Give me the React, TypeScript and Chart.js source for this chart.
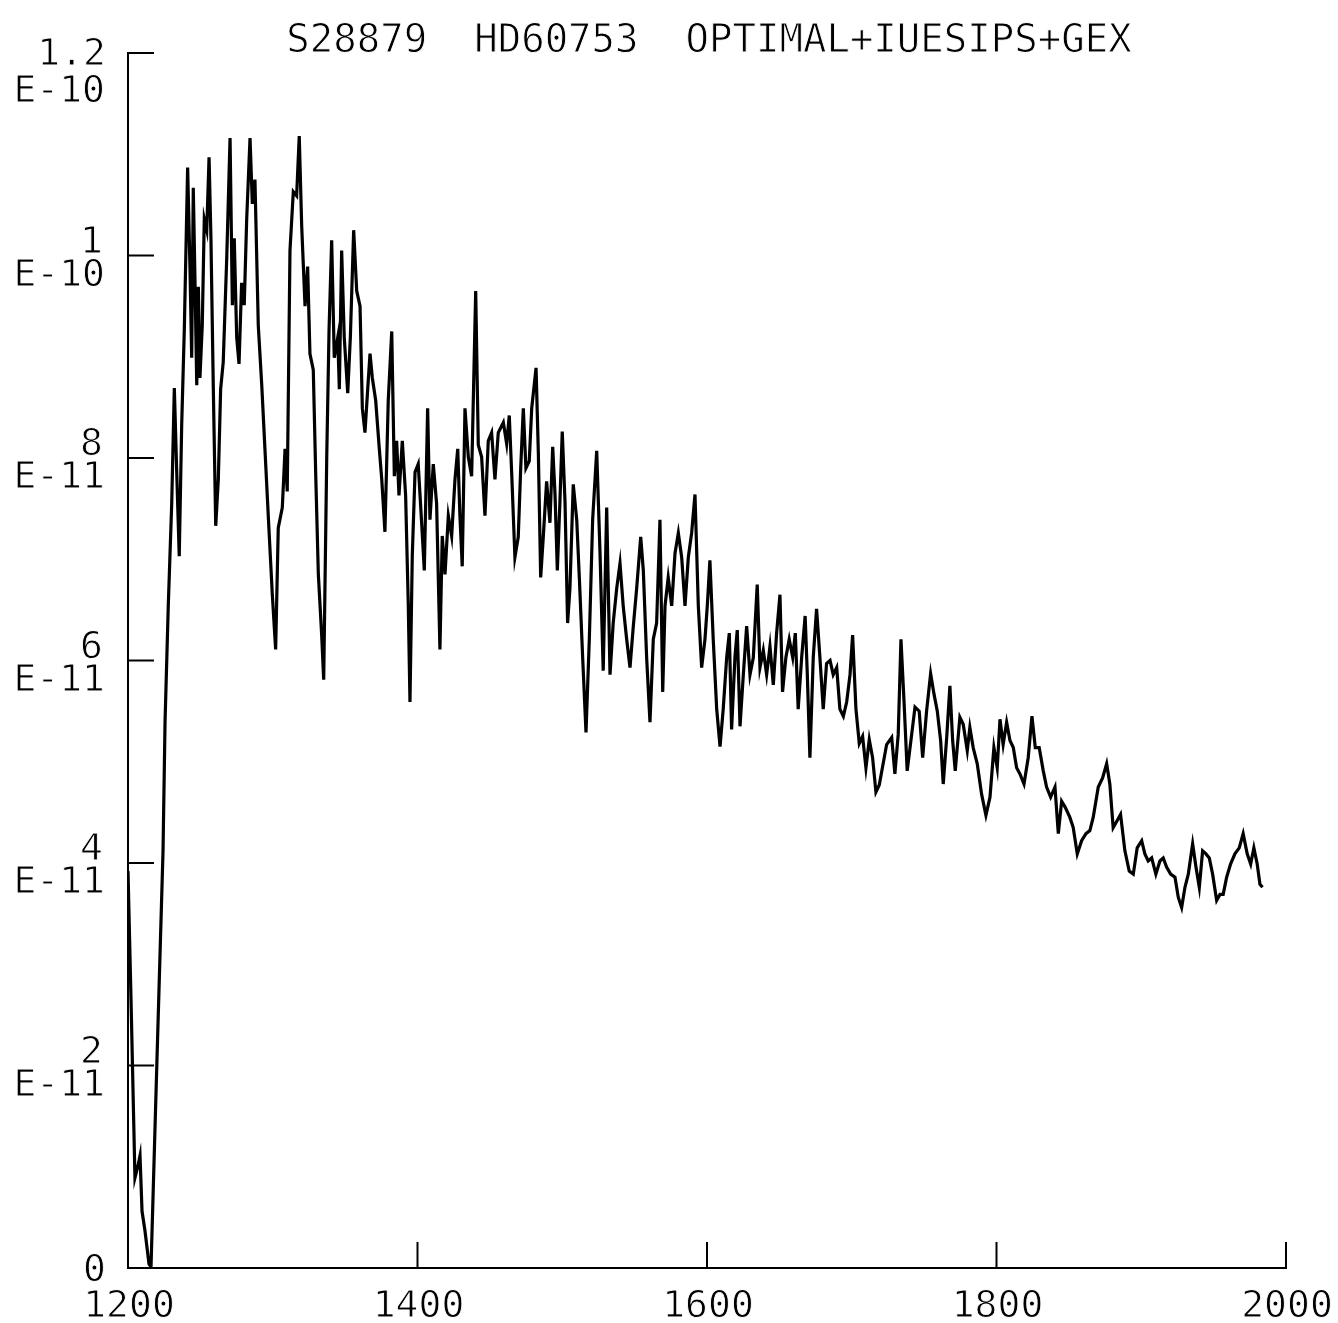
import React, { useEffect, useRef } from "react";
import { Chart, registerables } from "chart.js";

Chart.register(...registerables);

const TITLE = "S28879  HD60753  OPTIMAL+IUESIPS+GEX";

// wavelength (Angstrom)
const wavelengths: number[] = [
  1200.0, 1202.1, 1204.8, 1206.9, 1208.3, 1209.7, 1211.7, 1214.5, 1215.9, 1220.0,
  1224.2, 1225.6, 1227.8, 1230.2, 1232.0, 1233.6, 1235.4, 1237.1, 1238.9, 1241.2,
  1242.8, 1244.0, 1245.1, 1246.3, 1247.5, 1248.6, 1249.7, 1251.3, 1252.7, 1254.4,
  1256.0, 1257.3, 1258.9, 1260.6, 1262.4, 1264.0, 1265.8, 1268.2, 1270.5, 1272.1,
  1273.4, 1275.1, 1276.7, 1278.5, 1280.3, 1282.0, 1284.3, 1285.9, 1287.7, 1290.0,
  1292.4, 1294.6, 1296.9, 1299.7, 1302.0, 1303.8, 1306.6, 1308.5, 1310.0, 1311.9,
  1314.2, 1316.5, 1318.3, 1320.0, 1322.3, 1324.1, 1325.7, 1328.0, 1329.7, 1331.5,
  1333.8, 1335.2, 1337.3, 1338.9, 1340.7, 1342.5, 1344.9, 1346.0, 1347.6, 1349.4,
  1351.8, 1353.6, 1355.9, 1358.0, 1360.3, 1361.9, 1363.7, 1365.6, 1367.2, 1368.8,
  1371.1, 1373.4, 1375.3, 1377.5, 1379.8, 1382.2, 1384.0, 1385.6, 1387.2, 1389.5,
  1391.8, 1393.6, 1394.8, 1396.4, 1398.3, 1400.5, 1402.9, 1404.7, 1407.0, 1408.6,
  1410.9, 1413.2, 1415.5, 1417.1, 1419.0, 1421.3, 1423.6, 1425.9, 1427.8, 1429.3,
  1430.9, 1432.8, 1435.1, 1437.4, 1440.2, 1442.0, 1444.3, 1446.6, 1448.9, 1451.2,
  1453.5, 1455.8, 1459.3, 1461.6, 1463.4, 1465.1, 1467.3, 1469.6, 1471.3, 1473.1,
  1474.9, 1477.2, 1478.9, 1481.9, 1483.5, 1485.1, 1486.9, 1489.2, 1491.5, 1493.4,
  1495.0, 1496.6, 1498.4, 1500.0, 1501.9, 1503.7, 1505.3, 1507.6, 1510.0, 1511.8,
  1514.1, 1516.4, 1518.7, 1521.0, 1523.8, 1526.1, 1528.3, 1530.7, 1533.0, 1535.2,
  1537.6, 1539.9, 1542.1, 1544.5, 1546.8, 1549.1, 1551.4, 1554.2, 1556.0, 1558.3,
  1560.6, 1562.9, 1565.2, 1567.5, 1569.4, 1571.0, 1573.2, 1575.6, 1577.9, 1580.2,
  1582.5, 1584.8, 1587.1, 1589.4, 1591.7, 1594.0, 1596.3, 1598.6, 1600.2, 1602.0,
  1604.3, 1606.7, 1609.0, 1611.2, 1613.6, 1615.4, 1617.0, 1619.3, 1620.9, 1622.8,
  1625.1, 1627.4, 1629.7, 1632.0, 1634.7, 1636.6, 1638.9, 1641.2, 1643.5, 1645.8,
  1648.1, 1650.4, 1652.2, 1654.5, 1656.8, 1659.2, 1661.0, 1663.0, 1665.4, 1667.8,
  1669.3, 1671.1, 1673.4, 1675.7, 1678.0, 1680.3, 1682.6, 1685.0, 1687.2, 1689.6,
  1691.8, 1694.2, 1696.5, 1698.8, 1700.6, 1702.9, 1705.2, 1707.5, 1709.8, 1712.1,
  1714.4, 1716.7, 1719.0, 1724.1, 1727.6, 1729.8, 1732.1, 1734.0, 1736.1, 1738.3,
  1741.4, 1743.7, 1746.6, 1749.0, 1751.7, 1754.5, 1756.8, 1759.1, 1761.4, 1763.2,
  1765.6, 1767.8, 1769.7, 1771.5, 1774.7, 1777.0, 1779.8, 1781.6, 1783.9, 1786.7,
  1789.7, 1792.7, 1795.5, 1798.2, 1800.5, 1802.4, 1804.6, 1807.0, 1809.3, 1811.6,
  1813.9, 1816.2, 1819.0, 1821.9, 1824.5, 1826.8, 1829.5, 1832.3, 1834.6, 1837.4,
  1840.4, 1842.7, 1845.0, 1847.5, 1850.7, 1853.0, 1855.8, 1858.8, 1861.8, 1864.5,
  1866.8, 1870.3, 1873.3, 1876.1, 1878.3, 1880.6, 1883.4, 1885.7, 1888.7, 1891.7,
  1894.5, 1897.2, 1900.3, 1902.5, 1904.8, 1907.2, 1910.1, 1912.9, 1915.2, 1917.5,
  1920.3, 1923.3, 1925.6, 1927.9, 1930.2, 1932.5, 1935.5, 1937.8, 1940.1, 1942.4,
  1944.7, 1947.0, 1949.3, 1952.1, 1954.4, 1956.6, 1959.0, 1961.7, 1964.7, 1967.7,
  1970.4, 1973.2, 1975.6, 1977.8, 1980.1, 1982.0, 1983.8,
];

// flux in units of 1E-11
const fluxes: number[] = [
  3.92, 2.64, 0.89, 1.01, 1.11, 0.56, 0.37, 0.04, 0.01, 2.05,
  4.12, 5.40, 6.53, 7.55, 8.69, 7.89, 7.03, 8.33, 9.27, 10.87,
  9.89, 8.99, 10.67, 9.73, 8.72, 9.69, 8.79, 9.31, 10.36, 10.25,
  10.97, 10.17, 8.72, 7.33, 7.79, 8.68, 8.95, 9.97, 11.16, 9.51,
  10.17, 9.19, 8.93, 9.73, 9.51, 10.36, 11.16, 10.51, 10.75, 9.31,
  8.72, 8.09, 7.43, 6.65, 6.11, 7.31, 7.51, 8.09, 7.67, 10.05,
  10.63, 10.59, 11.18, 10.29, 9.50, 9.89, 9.03, 8.87, 7.83, 6.85,
  6.25, 5.81, 8.01, 9.27, 10.15, 8.99, 9.19, 8.68, 10.05, 9.19,
  8.64, 9.19, 10.25, 9.65, 9.50, 8.49, 8.25, 8.68, 9.03, 8.79,
  8.57, 8.13, 7.79, 7.27, 8.57, 9.25, 7.82, 8.17, 7.63, 8.17,
  7.63, 6.57, 5.59, 7.04, 7.86, 7.94, 7.35, 6.89, 8.49, 7.39,
  7.94, 7.55, 6.11, 7.23, 6.85, 7.43, 7.23, 7.79, 8.09, 7.43,
  6.93, 8.49, 8.01, 7.82, 9.65, 8.13, 8.01, 7.43, 8.17, 8.25,
  7.79, 8.25, 8.35, 8.14, 8.42, 7.84, 7.02, 7.22, 7.90, 8.49,
  7.90, 7.97, 8.49, 8.89, 8.04, 6.82, 7.22, 7.77, 7.36, 8.11,
  7.64, 6.89, 7.57, 8.26, 7.57, 6.37, 6.71, 7.74, 7.39, 6.82,
  6.03, 5.29, 6.21, 7.39, 8.07, 7.06, 5.90, 7.51, 5.86, 6.37,
  6.71, 6.96, 6.54, 6.21, 5.93, 6.34, 6.71, 7.22, 6.89, 6.03,
  5.39, 6.21, 6.37, 7.39, 5.69, 6.54, 6.82, 6.54, 7.06, 7.26,
  7.02, 6.54, 7.02, 7.26, 7.64, 6.54, 5.93, 6.21, 6.54, 6.99,
  6.21, 5.52, 5.15, 5.52, 6.03, 6.27, 5.32, 6.03, 6.30, 5.35,
  5.86, 6.34, 5.86, 6.03, 6.75, 5.93, 6.10, 5.86, 6.14, 5.76,
  6.27, 6.65, 5.69, 6.03, 6.21, 6.03, 6.27, 5.52, 6.03, 6.44,
  5.86, 5.04, 6.03, 6.51, 6.03, 5.52, 5.97, 6.00, 5.86, 5.93,
  5.52, 5.45, 5.59, 5.86, 6.25, 5.52, 5.18, 5.25, 4.94, 5.22,
  5.04, 4.70, 4.77, 5.17, 5.24, 4.88, 5.27, 6.21, 5.60, 4.91,
  5.27, 5.54, 5.50, 5.04, 5.50, 5.87, 5.67, 5.50, 5.21, 4.78,
  5.24, 5.75, 5.21, 4.91, 5.44, 5.37, 5.11, 5.34, 5.14, 4.98,
  4.68, 4.47, 4.65, 5.14, 4.94, 5.42, 5.17, 5.39, 5.21, 5.14,
  4.94, 4.88, 4.78, 5.04, 5.45, 5.14, 5.14, 4.91, 4.75, 4.65,
  4.75, 4.29, 4.61, 4.55, 4.45, 4.35, 4.09, 4.22, 4.29, 4.32,
  4.45, 4.75, 4.84, 4.98, 4.78, 4.35, 4.42, 4.48, 4.12, 3.92,
  3.89, 4.15, 4.22, 4.09, 4.02, 4.05, 3.89, 4.02, 4.05, 3.96,
  3.89, 3.86, 3.66, 3.56, 3.76, 3.89, 4.19, 3.96, 3.76, 4.12,
  4.09, 4.05, 3.89, 3.63, 3.69, 3.69, 3.86, 3.99, 4.09, 4.15,
  4.29, 4.09, 3.99, 4.15, 3.99, 3.79, 3.76,
];

const xTickValues = [1200, 1400, 1600, 1800, 2000];
const xTickLabels = ["1200", "1400", "1600", "1800", "2000"];
const yTickValues = [0, 2, 4, 6, 8, 10, 12];
const yTickMantissas = ["0", "2", "4", "6", "8", "1", "1.2"];
const yTickExponents = ["", "E-11", "E-11", "E-11", "E-11", "E-10", "E-10"];

const FONT = "'DejaVu Sans Mono', monospace";

function plotterText(ctx: CanvasRenderingContext2D, text: string, x: number, y: number) {
  ctx.fillText(text, x, y);
  ctx.save();
  ctx.strokeStyle = "#fff";
  ctx.lineWidth = 0.9;
  ctx.strokeText(text, x, y);
  ctx.restore();
}

const axesPlugin = {
  id: "plotterAxes",
  afterDraw(chart: any) {
    const ctx = chart.ctx as CanvasRenderingContext2D;
    const xs = chart.scales.x;
    const ys = chart.scales.y;
    const x0 = xs.getPixelForValue(1200);
    const x1 = xs.getPixelForValue(2000);
    const y0 = ys.getPixelForValue(0);
    const yTop = ys.getPixelForValue(12);
    ctx.save();
    ctx.strokeStyle = "#000";
    ctx.fillStyle = "#000";
    ctx.lineWidth = 2;
    ctx.lineCap = "square";
    ctx.beginPath();
    ctx.moveTo(x0, yTop);
    ctx.lineTo(x0, y0);
    ctx.lineTo(x1, y0);
    ctx.stroke();
    yTickValues.forEach((v) => {
      if (v === 0) return;
      const py = ys.getPixelForValue(v);
      ctx.beginPath();
      ctx.moveTo(x0, py);
      ctx.lineTo(x0 + 25, py);
      ctx.stroke();
    });
    xTickValues.forEach((v) => {
      if (v === 1200) return;
      const px = xs.getPixelForValue(v);
      ctx.beginPath();
      ctx.moveTo(px, y0);
      ctx.lineTo(px, y0 - 25);
      ctx.stroke();
    });
    ctx.font = `38px ${FONT}`;
    ctx.textAlign = "right";
    ctx.textBaseline = "alphabetic";
    yTickValues.forEach((v, i) => {
      const py = ys.getPixelForValue(v);
      const isTop = i === yTickValues.length - 1;
      if (yTickExponents[i] === "") {
        plotterText(ctx, yTickMantissas[i], x0 - 22, py + 13);
        return;
      }
      plotterText(ctx, yTickMantissas[i], x0 - (isTop ? 22 : 25), py + (isTop ? 12 : -3));
      plotterText(ctx, yTickExponents[i], x0 - 23, py + (isTop ? 49 : 30));
    });
    ctx.textAlign = "center";
    xTickValues.forEach((v, i) => {
      const px = xs.getPixelForValue(v);
      plotterText(ctx, xTickLabels[i], px + 1, y0 + 49);
    });
    ctx.font = `39px ${FONT}`;
    plotterText(ctx, TITLE, (x0 + x1) / 2 + 2, 52);
    ctx.restore();
  },
};

export default function App() {
  const canvasRef = useRef<HTMLCanvasElement | null>(null);

  useEffect(() => {
    const canvas = canvasRef.current;
    if (!canvas) return;
    const points = wavelengths.map((w, i) => ({ x: w, y: fluxes[i] }));
    const chart = new Chart(canvas, {
      type: "line",
      data: {
        datasets: [
          {
            data: points,
            borderColor: "#000",
            borderWidth: 3.2,
            pointRadius: 0,
            tension: 0,
            fill: false,
          },
        ],
      },
      options: {
        animation: false,
        responsive: false,
        devicePixelRatio: 1,
        layout: { padding: { left: 128, right: 52, top: 53, bottom: 55 } },
        plugins: { legend: { display: false }, tooltip: { enabled: false }, title: { display: false } },
        scales: {
          x: { type: "linear", min: 1200, max: 2000, display: false },
          y: { type: "linear", min: 0, max: 12, display: false },
        },
        events: [],
      },
      plugins: [axesPlugin],
    });
    return () => chart.destroy();
  }, []);

  return (
    <div style={{ position: "absolute", left: 0, top: 0, width: 1338, height: 1323, background: "#fff" }}>
      <canvas ref={canvasRef} width={1338} height={1323} style={{ display: "block" }} />
    </div>
  );
}
